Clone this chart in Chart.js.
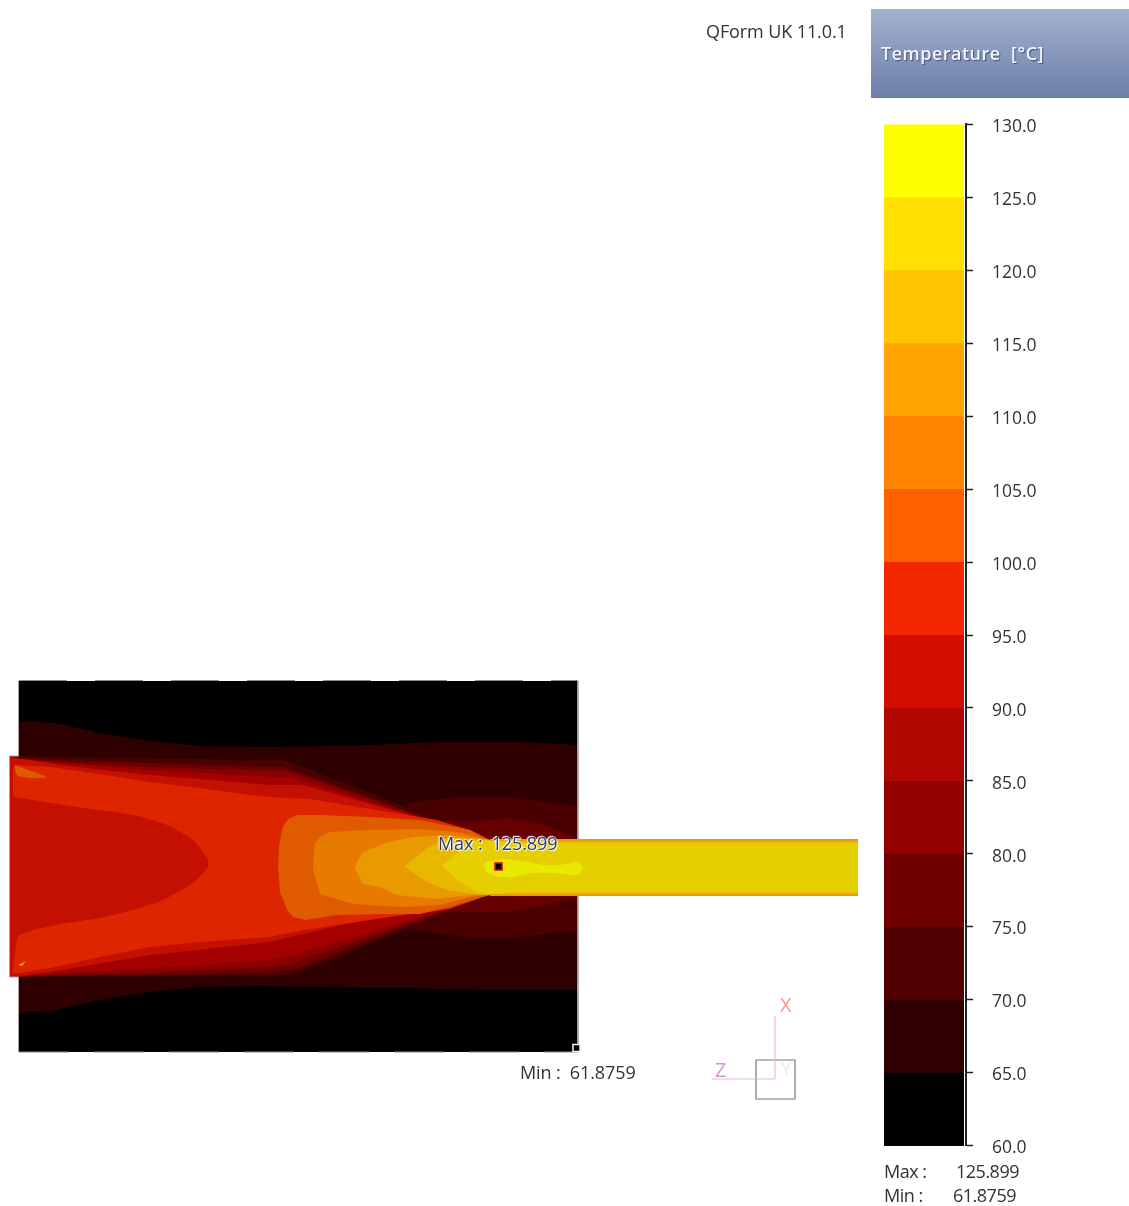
<!DOCTYPE html>
<html>
<head>
<meta charset="utf-8">
<script src="https://cdn.jsdelivr.net/npm/chart.js@4"></script>
<style>
  html, body { margin: 0; padding: 0; background: #fff; }
  #page { position: relative; width: 1129px; height: 1206px; overflow: hidden; filter: blur(0.45px); font-family: "Open Sans", sans-serif; color: #333; }
  canvas { position: absolute; }
  .txt { position: absolute; white-space: pre; font-size: 18px; line-height: 24px; letter-spacing: -0.1px; }
  .tight { letter-spacing: -0.5px; }
  #head { position: absolute; left: 871px; top: 9px; width: 258px; height: 89px; background: linear-gradient(#a3b1d0, #6d7fa8); }
  #head span { position: absolute; left: 10px; top: 32px; color: #f4f6fb; font-size: 18px; line-height: 24px; font-weight: 600; text-shadow: 1px 1px 1px #42507a; white-space: pre; letter-spacing: 0.5px; }
  .halo { text-shadow: 0 0 2px #fff, 0 0 2px #fff, 1px 1px 1px #fff, -1px -1px 1px #fff; color: #2d3a60; }
</style>
</head>
<body>
<div id="page">
  <div class="txt" style="left:706px;top:19px">QForm UK 11.0.1</div>
  <div id="head"><span>Temperature  [°C]</span></div>
  <canvas id="contour-chart" width="870" height="450" style="left:0;top:660px"></canvas>
  <canvas id="scale-chart" width="249" height="1070" style="left:880px;top:100px"></canvas>
  <div class="txt halo" style="left:438px;top:831px">Max :  125.899</div>
  <div class="txt" style="left:520px;top:1060px">Min :  61.8759</div>
  <div class="txt" style="left:780px;top:993px;color:#ff9090;font-size:20px">X</div>
  <div class="txt" style="left:715px;top:1058px;color:#cc9acc;font-size:20px">Z</div>
  <div class="txt" style="left:781px;top:1056px;color:#f6e4e4;font-size:18px">Y</div>
  <div class="txt tight" style="left:884px;top:1159px">Max :</div>
  <div class="txt tight" style="left:956px;top:1159px">125.899</div>
  <div class="txt tight" style="left:884px;top:1183px">Min :</div>
  <div class="txt tight" style="left:953px;top:1183px">61.8759</div>
</div>
<script>
// Temperature scale
const scaleMin = 60;
const bandHigh = [65, 70, 75, 80, 85, 90, 95, 100, 105, 110, 115, 120, 125, 130];
const bandColors = ['#000000', '#300000', '#500000', '#700000', '#920000', '#b20600', '#d20c00', '#f42800', '#ff6000', '#ff8400', '#ffa400', '#ffc400', '#ffe000', '#ffff00'];

// Isotherm outlines, [axial, transverse], painted cold to hot
const dieBlock = [[19,681],[578,681],[578,1052],[19,1052]];
const die65 = [[19,722],[32,721],[60,724],[100,733],[150,741],[200,746],[270,747],[370,745],[437,742],[520,742],[578,745],[578,990],[480,990],[400,988],[300,987],[260,986],[200,987],[150,992],[100,1000],[50,1011],[19,1013]];
const die70 = [[408,803],[440,799],[470,797],[520,798],[578,807],[578,930],[520,937],[470,937],[440,934],[408,928]];
const die75 = [[445,820],[470,822],[510,818],[545,825],[578,839],[578,897],[540,906],[510,912],[445,912]];
const billet70 = [[10,756],[100,758],[200,759],[285,760],[483,837],[497,842],[497,893],[490,895],[300,972],[285,975],[200,975],[100,976],[10,977]];
const billet75 = [[12,757],[60,760],[150,763],[270,767],[284,767],[478,836],[478,898],[300,968],[270,973],[150,975],[50,976],[12,977]];
const billet80 = [[12,758],[60,762],[150,767],[270,771],[287,771],[475,835],[475,900],[290,964],[270,967],[150,973],[50,975],[12,977]];
const billet85 = [[12,758],[60,763],[150,770],[270,777],[290,777],[470,833],[470,902],[290,956],[270,960],[150,968],[50,974],[12,977]];
const billet90 = [[10,757],[60,765],[150,775],[270,785],[303,785],[403,813],[470,832],[470,902],[410,912],[340,925],[270,942],[150,955],[50,972],[10,977]];
const billet95 = [[13,767],[18,765],[50,767],[100,774],[150,782],[200,788],[250,795],[283,798],[310,799],[437,820],[470,830],[480,835],[480,898],[450,909],[403,915],[303,930],[270,937],[200,942],[150,947],[100,957],[50,968],[20,973],[13,973]];
const core90 = [[10,796],[33,800],[83,808],[133,815],[167,825],[193,840],[208,860],[208,867],[193,883],[163,900],[133,910],[100,918],[67,923],[33,930],[18,937],[15,953],[12,973],[10,977]];
const cornerTop = [[15,765],[20,767],[47,777],[33,778],[18,776],[15,770]];
const cornerBottom = [[18,965],[26,961],[22,966]];
const billet100 = [[278,866],[279,845],[283,827],[288,819],[297,815],[320,815],[370,817],[420,820],[470,830],[490,840],[490,895],[450,907],[420,914],[387,914],[337,915],[305,920],[293,917],[287,910],[280,892]];
const billet105 = [[313,866],[315,843],[320,837],[330,832],[370,830],[420,829],[457,832],[490,840],[490,895],[470,897],[440,905],[403,907],[353,904],[320,894],[313,869]];
const billet110 = [[355,866],[362,853],[385,843],[413,837],[447,835],[490,840],[490,895],[470,895],[437,899],[397,895],[380,887],[363,884],[355,869]];
const billet115 = [[405,866],[427,848],[447,838],[490,840],[490,895],[473,894],[447,890],[427,882],[405,867]];
const exitEdge = [[490,839],[858,839],[858,896],[490,896]];
const exitMid = [[490,841],[858,841],[858,894],[490,894]];
const exitCore = [[442,866],[457,853],[477,840],[520,843],[858,843],[858,892],[520,892],[490,894],[477,892],[460,882]];
const hotSpot = [[483,866],[487,862],[503,859],[530,862],[543,865],[560,865],[577,862],[583,868],[577,875],[557,873],[533,873],[513,877],[500,877],[487,873]];

const isoLayers = [
  [dieBlock, '#000000'], [die65, '#2e0000'], [die70, '#4a0000'], [die75, '#660000'],
  [billet70, '#4a0000'], [billet75, '#6a0000'], [billet80, '#8a0000'], [billet85, '#a50000'], [billet90, '#c41000'],
  [billet95, '#dd2500'], [core90, '#c41000'], [cornerTop, '#e05a00'], [cornerBottom, '#e8a000'],
  [billet100, '#e05a00'], [billet105, '#e87a00'], [billet110, '#e89a00'], [billet115, '#e8b800'],
  [exitEdge, '#e89a00'], [exitMid, '#e8b800'], [exitCore, '#e6cf00'], [hotSpot, '#e8e800']
];
const roundedLayers = [core90, cornerTop, hotSpot];

// Outline pieces and the triad
const dieTop = [[19,680.5],[578,680.5]];
const dieBottom = [[19,1052],[578,1052]];
const dieRightUpper = [[578,681],[578,839]];
const dieRightLower = [[578,896],[578,1052]];
const dieLeft = [[18.5,681],[18.5,756],[9.5,756],[9.5,977],[18.5,977],[18.5,1052]];
const axisX = [[775,1016],[775,1079]];
const axisZ = [[712,1079],[775,1079]];
const triadBox = [[756,1060],[795,1060],[795,1099],[756,1099],[756,1060]];
const maxPoint = [[498.5,866.5]];
const minPoint = [[576.5,1048]];

const toPts = arr => arr.map(p => ({ x: p[0], y: p[1] }));

const isoSets = isoLayers.map(([pts, color], i) => ({
  data: toPts(pts),
  showLine: true,
  fill: 'shape',
  tension: roundedLayers.includes(pts) ? 0.2 : 0,
  backgroundColor: color,
  borderWidth: 0,
  pointRadius: 0,
  order: 100 - i
}));

function strokeSet(pts, color, width, dash) {
  return {
    data: toPts(pts),
    showLine: true,
    fill: false,
    borderColor: color,
    borderWidth: width,
    borderDash: dash || [],
    pointRadius: 0,
    order: 50
  };
}

function markerSet(pts, fillColor, edgeColor) {
  return {
    data: toPts(pts),
    showLine: false,
    pointStyle: 'rect',
    pointRadius: 5,
    pointBackgroundColor: fillColor,
    pointBorderColor: edgeColor,
    pointBorderWidth: 1.5,
    order: 1
  };
}

new Chart(document.getElementById('contour-chart').getContext('2d'), {
  type: 'scatter',
  data: {
    datasets: [
      ...isoSets,
      strokeSet(dieTop, '#8a8a8a', 1.2, [48, 28]),
      strokeSet(dieBottom, '#8a8a8a', 1.2, [50, 25]),
      strokeSet(dieRightUpper, '#b0b0b0', 1),
      strokeSet(dieRightLower, '#b0b0b0', 1),
      strokeSet(dieLeft, '#b0a0a0', 1),
      strokeSet(axisX, '#fbb8b8', 1.2),
      strokeSet(axisZ, '#e2b8e2', 1.2),
      strokeSet(triadBox, '#777777', 1.2),
      markerSet(maxPoint, '#000000', '#e01010'),
      markerSet(minPoint, '#000000', '#f0f4ff')
    ]
  },
  options: {
    responsive: false,
    animation: false,
    layout: { padding: 0, autoPadding: false },
    plugins: { legend: { display: false }, tooltip: { enabled: false } },
    scales: {
      x: { type: 'linear', min: 0, max: 870, display: false },
      y: { type: 'linear', min: 660, max: 1110, reverse: true, display: false }
    }
  }
});

new Chart(document.getElementById('scale-chart').getContext('2d'), {
  type: 'bar',
  data: {
    labels: ['T'],
    // every band runs down to the scale minimum and colder ones paint over it, so no seams
    datasets: bandHigh.map((hi, i) => ({
      data: [[scaleMin, hi]],
      backgroundColor: bandColors[i],
      barPercentage: 0.952,
      categoryPercentage: 1,
      grouped: false
    }))
  },
  options: {
    responsive: false,
    animation: false,
    layout: { padding: { left: 2, top: 14, bottom: 24 }, autoPadding: false },
    plugins: { legend: { display: false }, tooltip: { enabled: false } },
    scales: {
      x: { display: false },
      y: {
        position: 'right',
        min: 60,
        max: 130,
        afterFit: s => { s.width = 163; },
        grid: { drawOnChartArea: false, tickLength: 7, color: '#222222', tickWidth: 1.5 },
        border: { display: true, color: '#222222', width: 2 },
        ticks: {
          stepSize: 5,
          padding: 19,
          color: '#333333',
          font: { family: "'Open Sans', sans-serif", size: 17.5, lineHeight: 0.3 },
          // empty first line nudges the label down a little
          callback: v => ['', v.toFixed(1)]
        }
      }
    }
  }
});
</script>
</body>
</html>
